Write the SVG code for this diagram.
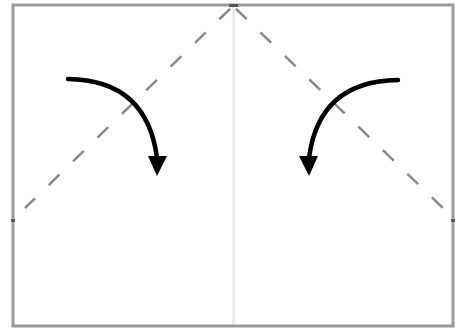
<svg xmlns="http://www.w3.org/2000/svg" width="456" height="331" viewBox="0 0 456 331">
<defs>
<style>
.dash{fill:none;stroke:#8a8a8a;stroke-width:2.5;stroke-dasharray:15 19;stroke-dashoffset:-4}
.arr{fill:none;stroke:#000;stroke-width:4.5;stroke-linecap:round}
.head{fill:#000}
</style>
</defs>
<rect width="456" height="331" fill="#fff"/>
<g id="frame">
<line x1="233.5" y1="6" x2="233.5" y2="326" stroke="#ececec" stroke-width="3"/>
<rect x="13" y="5" width="440" height="321" fill="none" stroke="#9a9a9a" stroke-width="3"/>
<rect x="11" y="219" width="4" height="3" fill="#555"/>
<rect x="451" y="219" width="4" height="3" fill="#555"/>
<rect x="229" y="4" width="9" height="3" fill="#555"/>
</g>
<g id="connectors">
<path class="dash" d="M233,6 L25,208"/>
<path class="dash" d="M233,6 L445,210"/>
<path class="arr" d="M68,79 Q147,80 157,158"/>
<polygon class="head" points="148,156 167,156 157,176"/>
<path class="arr" d="M398,80 Q319,81 309,158"/>
<polygon class="head" points="299,156 318,156 309,176"/>
</g>
</svg>
